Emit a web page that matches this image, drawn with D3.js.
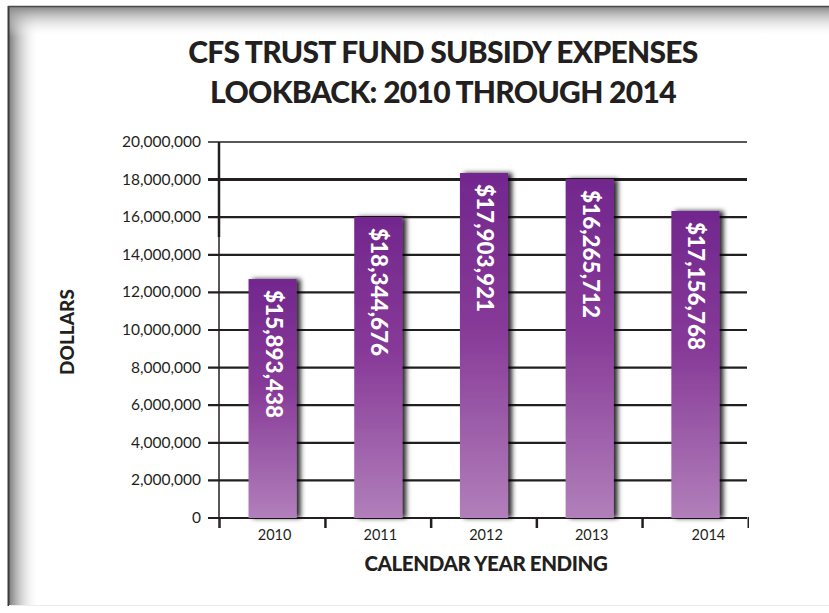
<!DOCTYPE html>
<html>
<head>
<meta charset="utf-8">
<script src="https://cdn.jsdelivr.net/npm/d3@7"></script>
<style>
  body { margin: 0; background: #fff; }
  text { font-family: Lato, "Open Sans", sans-serif; }
</style>
</head>
<body>
<div id="chart"></div>
<script>
// data
var years = ["2010", "2011", "2012", "2013", "2014"];
var barValues = [12710000, 16010000, 18350000, 18030000, 16330000]; // bar heights as drawn
var barLabels = ["$15,893,438", "$18,344,676", "$17,903,921", "$16,265,712", "$17,156,768"];
var yTicks = [0, 2000000, 4000000, 6000000, 8000000, 10000000, 12000000, 14000000, 16000000, 18000000, 20000000];

var width = 829, height = 613;

var svg = d3.select('#chart').append('svg')
  .attr('width', width)
  .attr('height', height);

var defs = svg.append('defs');

// bar gradient, dark purple on top fading lighter to the bottom
var grad = defs.append('linearGradient').attr('id', 'barGrad')
  .attr('x1', 0).attr('y1', 0).attr('x2', 0).attr('y2', 1);
grad.append('stop').attr('offset', '0%').attr('stop-color', '#72278e');
grad.append('stop').attr('offset', '45%').attr('stop-color', '#873a98');
grad.append('stop').attr('offset', '100%').attr('stop-color', '#b17fba');

// frame inner shadows
var lg = defs.append('linearGradient').attr('id', 'leftShade')
  .attr('x1', 0).attr('y1', 0).attr('x2', 1).attr('y2', 0);
lg.append('stop').attr('offset', '0%').attr('stop-color', '#7d7d7d');
lg.append('stop').attr('offset', '100%').attr('stop-color', '#fff').attr('stop-opacity', 0);
var tg = defs.append('linearGradient').attr('id', 'topShade')
  .attr('x1', 0).attr('y1', 0).attr('x2', 0).attr('y2', 1);
tg.append('stop').attr('offset', '0%').attr('stop-color', '#8a8a8a');
tg.append('stop').attr('offset', '100%').attr('stop-color', '#fff').attr('stop-opacity', 0);

var shadow = defs.append('filter').attr('id', 'shadow')
  .attr('x', '-20%').attr('y', '-10%').attr('width', '160%').attr('height', '120%');
shadow.append('feDropShadow')
  .attr('dx', 4).attr('dy', 0).attr('stdDeviation', 2.5)
  .attr('flood-color', '#000').attr('flood-opacity', 0.85);

// frame
svg.append('rect').attr('x', 0).attr('y', 0).attr('width', width).attr('height', height).attr('fill', '#fff');
svg.append('rect').attr('x', 9).attr('y', 7).attr('width', 30).attr('height', 598).attr('fill', 'url(#leftShade)');
svg.append('rect').attr('x', 9).attr('y', 7).attr('width', 820).attr('height', 30).attr('fill', 'url(#topShade)');
svg.append('line').attr('x1', 8.5).attr('x2', 8.5).attr('y1', 6).attr('y2', 606).attr('stroke', '#3a3a3a').attr('stroke-width', 2);
svg.append('line').attr('x1', 8).attr('x2', 829).attr('y1', 6.5).attr('y2', 6.5).attr('stroke', '#4a4a4a').attr('stroke-width', 1.5);
svg.append('line').attr('x1', 9).attr('x2', 829).attr('y1', 605.5).attr('y2', 605.5).attr('stroke', '#ececec').attr('stroke-width', 1);

// title
svg.append('text').attr('x', 443).attr('y', 63).attr('text-anchor', 'middle')
  .attr('font-size', 30).attr('font-weight', 900).attr('fill', '#231f20')
  .attr('letter-spacing', -0.7)
  .text('CFS TRUST FUND SUBSIDY EXPENSES');
svg.append('text').attr('x', 443).attr('y', 103).attr('text-anchor', 'middle')
  .attr('font-size', 30).attr('font-weight', 900).attr('fill', '#231f20')
  .attr('letter-spacing', -0.7)
  .text('LOOKBACK: 2010 THROUGH 2014');

// scales
var x = d3.scaleBand().domain(years).range([220, 748]).paddingInner(0.545).paddingOuter(0.27);
var y = d3.scaleLinear().domain([0, 20000000]).range([518, 142]);

// gridlines
svg.append('g').selectAll('line').data(yTicks).enter().append('line')
  .attr('x1', 208).attr('x2', 747)
  .attr('y1', function(d) { return y(d); })
  .attr('y2', function(d) { return y(d); })
  .attr('stroke', '#231f20')
  .attr('stroke-width', function(d) { return d === 18000000 ? 3 : (d === 20000000 ? 1.5 : 2.2); });

// y axis line
svg.append('line').attr('x1', 219).attr('x2', 219).attr('y1', 142).attr('y2', 237)
  .attr('stroke', '#231f20').attr('stroke-width', 2.5);
svg.append('line').attr('x1', 219).attr('x2', 219).attr('y1', 237).attr('y2', 528)
  .attr('stroke', '#231f20').attr('stroke-width', 1.5);

// y tick labels
var fmt = d3.format(',');
svg.append('g').selectAll('text').data(yTicks).enter().append('text')
  .attr('x', 201).attr('y', function(d) { return y(d) + 5; })
  .attr('text-anchor', 'end').attr('font-size', 15.5).attr('fill', '#231f20')
  .text(function(d) { return fmt(d); });

// x axis tick marks between bands
var xEdges = [220].concat(years.map(function(d) { return x(d) + x.bandwidth() / 2 + x.step() / 2; }));
svg.append('g').selectAll('line').data(xEdges).enter().append('line')
  .attr('x1', function(d) { return d; }).attr('x2', function(d) { return d; })
  .attr('y1', 517).attr('y2', 528)
  .attr('stroke', '#231f20').attr('stroke-width', function(d, i) { return i === 0 || i === 5 ? 1.5 : 2.5; });

// bars
var bars = svg.append('g').selectAll('g').data(years).enter().append('g');
bars.append('rect')
  .attr('x', function(d) { return x(d); })
  .attr('width', x.bandwidth())
  .attr('y', function(d, i) { return y(barValues[i]); })
  .attr('height', function(d, i) { return y(0) - y(barValues[i]); })
  .attr('fill', 'url(#barGrad)')
  .attr('filter', 'url(#shadow)');

// value labels, rotated inside bars
bars.append('text')
  .attr('transform', function(d, i) {
    return 'translate(' + (x(d) + x.bandwidth() / 2 - 7) + ',' + (y(barValues[i]) + 11) + ') rotate(90)';
  })
  .attr('font-size', 22.5).attr('font-weight', 900).attr('fill', '#fff')
  .text(function(d, i) { return barLabels[i]; });

// year labels
svg.append('g').selectAll('text').data(years).enter().append('text')
  .attr('x', function(d) { return x(d) + x.bandwidth() / 2 + (d === '2014' ? 13 : 2); })
  .attr('y', 540).attr('text-anchor', 'middle')
  .attr('font-size', 14.5).attr('fill', '#231f20')
  .text(function(d) { return d; });

// axis titles
svg.append('text').attr('x', 486).attr('y', 571).attr('text-anchor', 'middle')
  .attr('font-size', 20.5).attr('font-weight', 900).attr('fill', '#231f20')
  .attr('letter-spacing', -0.4)
  .text('CALENDAR YEAR ENDING');
svg.append('text')
  .attr('transform', 'translate(74,332) rotate(-90)')
  .attr('text-anchor', 'middle')
  .attr('font-size', 19).attr('font-weight', 900).attr('fill', '#231f20')
  .text('DOLLARS');
</script>
</body>
</html>
